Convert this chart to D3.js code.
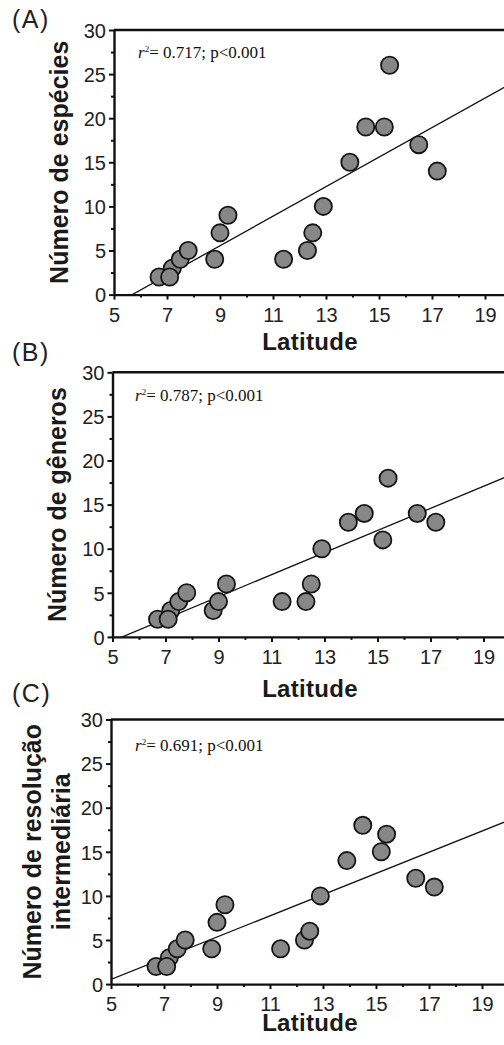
<!DOCTYPE html>
<html>
<head>
<meta charset="utf-8">
<script src="https://cdn.jsdelivr.net/npm/d3@7"></script>
<style>
  body { margin: 0; background: #fff; }
  svg { display: block; }
  .tick text { font-family: "Liberation Sans", Arial, sans-serif; font-size: 20px; fill: #222; }
</style>
</head>
<body>
<div id="chart"></div>
<script>
// latitude of each site, same order in every panel
const latitude = [6.7, 7.2, 7.1, 7.5, 7.8, 8.8, 9.0, 9.3, 11.4, 12.3, 12.5, 12.9, 13.9, 14.5, 15.2, 15.4, 16.5, 17.2];
const especies = [2, 3, 2, 4, 5, 4, 7, 9, 4, 5, 7, 10, 15, 19, 19, 26, 17, 14];
const generos = [2, 3, 2, 4, 5, 3, 4, 6, 4, 4, 6, 10, 13, 14, 11, 18, 14, 13];
const intermediaria = [2, 3, 2, 4, 5, 4, 7, 9, 4, 5, 6, 10, 14, 18, 15, 17, 12, 11];

const panelLetters = ["(A)", "(B)", "(C)"];
const yTitles = [["Número de espécies"], ["Número de gêneros"], ["Número de resolução", "intermediária"]];
const r2Values = ["0.717", "0.787", "0.691"];
const xTicks = [5, 7, 9, 11, 13, 15, 17, 19];
const yTicks = [0, 5, 10, 15, 20, 25, 30];

const width = 504, height = 1045;
const svg = d3.select("#chart").append("svg")
  .attr("width", width)
  .attr("height", height);

const panels = [
  { y: especies, left: 114, top: 30, letterY: 28, titleX: [67.5], statY: 57.5, statX: 138, latY: 350 },
  { y: generos, left: 112.5, top: 372.3, letterY: 361, titleX: [66], statY: 401, statX: 135, latY: 697 },
  { y: intermediaria, left: 111, top: 719.5, letterY: 702, titleX: [41, 70], statY: 751, statX: 135, latY: 1031 }
];

const plotH = 264.6;
const unit = 26.5;

// least squares fit
function fit(xs, ys) {
  const mx = d3.mean(xs), my = d3.mean(ys);
  let sxy = 0, sxx = 0;
  xs.forEach((x, i) => { sxy += (x - mx) * (ys[i] - my); sxx += (x - mx) * (x - mx); });
  const b = sxy / sxx;
  return { a: my - b * mx, b: b };
}

panels.forEach((p, k) => {
  const g = svg.append("g").attr("transform", `translate(${p.left},${p.top})`);
  const x = d3.scaleLinear().domain([5, 20]).range([0, 15 * unit]);
  const y = d3.scaleLinear().domain([0, 30]).range([plotH, 0]);
  const pw = 15 * unit;

  const clipId = "clip" + k;
  g.append("clipPath").attr("id", clipId)
    .append("rect").attr("x", 0).attr("y", 0).attr("width", pw).attr("height", plotH);

  // regression line
  const f = fit(latitude, p.y);
  g.append("line")
    .attr("clip-path", `url(#${clipId})`)
    .attr("x1", x(5)).attr("y1", y(f.a + f.b * 5))
    .attr("x2", x(20)).attr("y2", y(f.a + f.b * 20))
    .attr("stroke", "#111").attr("stroke-width", 1.3);

  // points
  g.selectAll(".pt")
    .data(latitude.map((lat, i) => ({ lat: lat, v: p.y[i] })))
    .enter().append("circle")
    .attr("class", "pt")
    .attr("cx", d => x(d.lat))
    .attr("cy", d => y(d.v))
    .attr("r", 8.6)
    .attr("fill", "#878787")
    .attr("stroke", "#151515")
    .attr("stroke-width", 1.8);

  // minor ticks
  g.append("g").attr("transform", `translate(0,${plotH})`)
    .call(d3.axisBottom(x).tickValues(d3.range(6, 20, 2)).tickSize(3).tickFormat(""))
    .call(a => a.select(".domain").remove())
    .selectAll("line").attr("stroke", "#111").attr("stroke-width", 2);
  g.append("g")
    .call(d3.axisLeft(y).tickValues(d3.range(2.5, 30, 5)).tickSize(3).tickFormat(""))
    .call(a => a.select(".domain").remove())
    .selectAll("line").attr("stroke", "#111").attr("stroke-width", 2);

  // x axis
  const xa = g.append("g").attr("transform", `translate(0,${plotH})`)
    .call(d3.axisBottom(x).tickValues(xTicks).tickSize(5).tickSizeOuter(0));
  xa.select(".domain").attr("stroke", "#111").attr("stroke-width", 2.4);
  xa.selectAll(".tick line").attr("stroke", "#111").attr("stroke-width", 2);
  xa.selectAll(".tick text").attr("y", 27).attr("dy", 0);

  // y axis
  const ya = g.append("g")
    .call(d3.axisLeft(y).tickValues(yTicks).tickSize(5).tickSizeOuter(0));
  ya.select(".domain").attr("stroke", "#111").attr("stroke-width", 2.4);
  ya.selectAll(".tick line").attr("stroke", "#111").attr("stroke-width", 2);
  ya.selectAll(".tick text").attr("x", -8).attr("dy", "0.36em");

  // top frame line
  g.append("line")
    .attr("x1", 0).attr("x2", pw).attr("y1", 0).attr("y2", 0)
    .attr("stroke", "#111").attr("stroke-width", 2.4);

  // statistics label
  const st = svg.append("text")
    .attr("x", p.statX).attr("y", p.statY)
    .attr("font-family", "'Liberation Serif', 'Times New Roman', serif")
    .attr("font-size", 17).attr("fill", "#111");
  st.append("tspan").attr("font-style", "italic").text("r");
  st.append("tspan").attr("font-size", 9).attr("dy", -6).text("2");
  st.append("tspan").attr("dy", 6).text(`= ${r2Values[k]}; p<0.001`);

  // panel letter
  svg.append("text")
    .attr("x", 12).attr("y", p.letterY)
    .attr("font-family", "'Liberation Sans', Arial, sans-serif")
    .attr("font-size", 25).attr("letter-spacing", 1.5).attr("fill", "#222")
    .text(panelLetters[k]);

  // y title (one or two lines)
  const cy = p.top + plotH / 2;
  yTitles[k].forEach((t, j) => {
    svg.append("text")
      .attr("transform", `translate(${p.titleX[j]},${cy}) rotate(-90)`)
      .attr("text-anchor", "middle")
      .attr("font-family", "'Liberation Sans', Arial, sans-serif")
      .attr("font-weight", "bold").attr("font-size", 25).attr("fill", "#1a1a1a")
      .text(t);
  });

  // x title
  svg.append("text")
    .attr("x", 310).attr("y", p.latY)
    .attr("text-anchor", "middle")
    .attr("font-family", "'Liberation Sans', Arial, sans-serif")
    .attr("font-weight", "bold").attr("font-size", 24).attr("letter-spacing", 0.3).attr("fill", "#1a1a1a")
    .text("Latitude");
});
</script>
</body>
</html>
